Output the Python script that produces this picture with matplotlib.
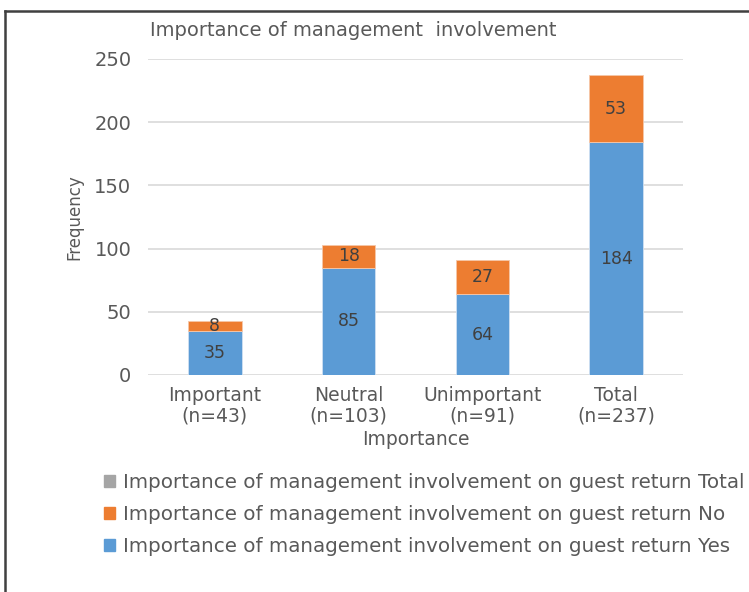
import matplotlib
matplotlib.use("Agg")
import matplotlib.pyplot as plt
from matplotlib.patches import Patch
from matplotlib.lines import Line2D

categories = ["Important\n(n=43)", "Neutral\n(n=103)", "Unimportant\n(n=91)", "Total\n(n=237)"]
yes_values = [35, 85, 64, 184]
no_values = [8, 18, 27, 53]
series_names = [
    "Importance of management involvement on guest return Total",
    "Importance of management involvement on guest return No",
    "Importance of management involvement on guest return Yes",
]
yticks = [0, 50, 100, 150, 200, 250]

BLUE = "#5B9BD5"
ORANGE = "#ED7D31"
GRAY = "#A5A5A5"
TXT = "#595959"

plt.rcParams["font.family"] = ["DejaVu Sans"]

fig = plt.figure(figsize=(7.49, 5.92), dpi=100)
ax = fig.add_axes([148 / 749, 1 - 375 / 592, (683 - 148) / 749, (375 - 59) / 592])

x = list(range(len(categories)))
w = 0.4
b1 = ax.bar(x, yes_values, width=w, color=BLUE, edgecolor="#cfe0f2", linewidth=0.6, zorder=3)
b2 = ax.bar(x, no_values, width=w, bottom=yes_values, color=ORANGE, edgecolor="#f6c7a8", linewidth=0.6, zorder=3)
ax.bar_label(b1, labels=[str(v) for v in yes_values], label_type="center", color="#404040", fontsize=12.5)
ax.bar_label(b2, labels=[str(v) for v in no_values], label_type="center", color="#404040", fontsize=12.5)

ax.set_xlim(-0.5, len(categories) - 0.5)
ax.set_ylim(0, 250)
ax.set_yticks(yticks)
ax.set_xticks(x)
ax.set_xticklabels(categories, fontsize=13.5, color=TXT, linespacing=1.1)
ax.tick_params(axis="y", labelsize=14, labelcolor=TXT, length=0, pad=12)
ax.tick_params(axis="x", length=0, pad=8)
ax.grid(axis="y", color="#d9d9d9", linewidth=1.2, zorder=0)
for s in ax.spines.values():
    s.set_visible(False)
ax.set_axisbelow(True)

ax.set_xlabel("Importance", fontsize=13.5, color=TXT, labelpad=3)
ax.set_ylabel("Frequency", fontsize=12, color=TXT, labelpad=8)

fig.text(150 / 749, 1 - 31 / 592, "Importance of management  involvement", fontsize=14,
         color=TXT, ha="left", va="center")

handles = [Patch(color=GRAY), Patch(color=ORANGE), Patch(color=BLUE)]
leg = fig.legend(handles, series_names, loc="upper left", bbox_to_anchor=(104 / 749, 1 - 473 / 592),
                 frameon=False, fontsize=14.3, handlelength=0.55, handleheight=0.55, handletextpad=0.4,
                 labelspacing=0.65, borderaxespad=0, borderpad=0)
for t in leg.get_texts():
    t.set_color(TXT)

# outer frame
fig.add_artist(Line2D([5 / 749, 5 / 749], [0, 1 - 11 / 592], transform=fig.transFigure, color="#404040", linewidth=1.8))
fig.add_artist(Line2D([5 / 749, 1], [1 - 11 / 592, 1 - 11 / 592], transform=fig.transFigure, color="#404040", linewidth=1.8))

fig.savefig("out.png", dpi=100)
